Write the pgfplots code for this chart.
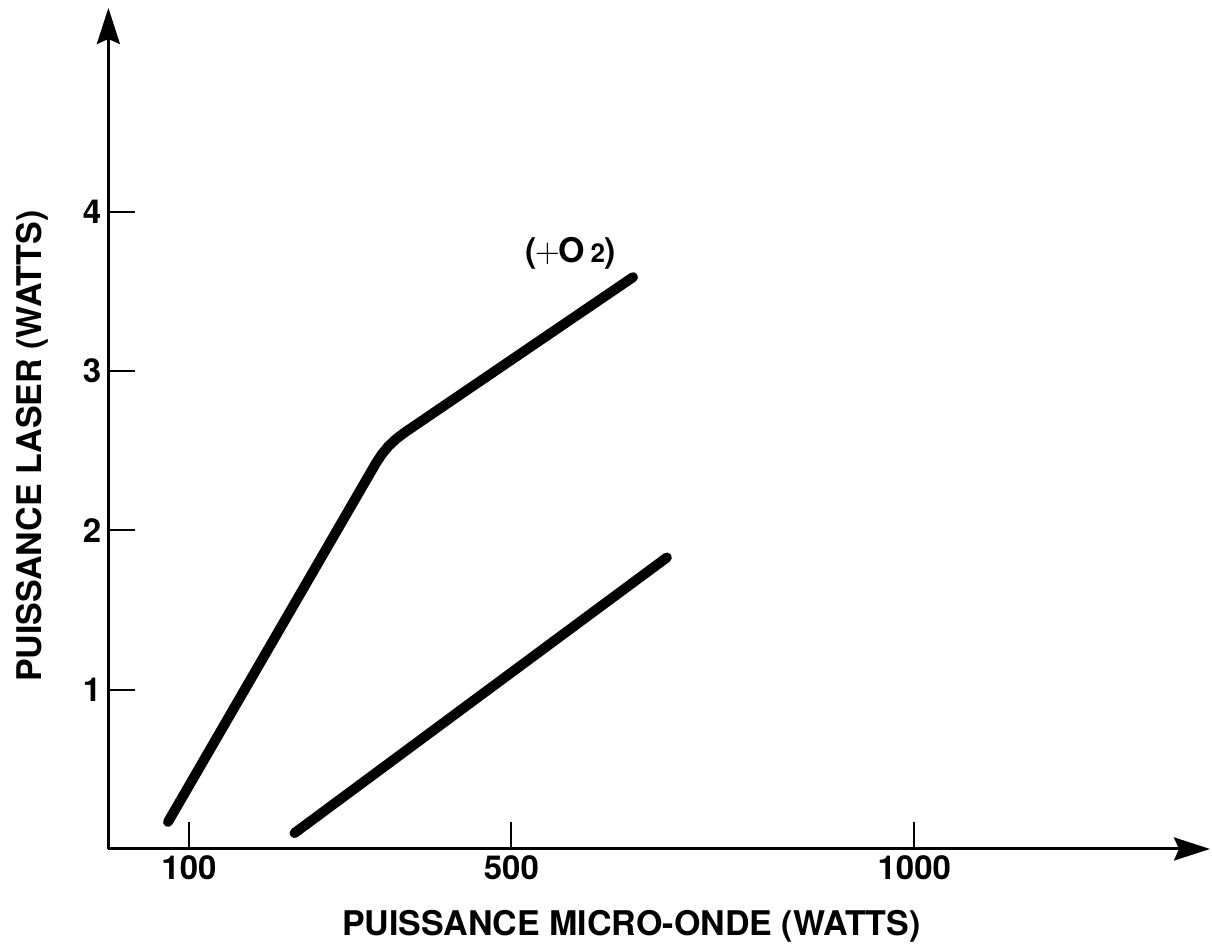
\documentclass[border=0pt]{standalone}
\usepackage{fontspec}
\setmainfont{TeX Gyre Heros}
\usepackage{pgfplots}
\pgfplotsset{compat=1.18}
\usetikzlibrary{arrows.meta}

\begin{document}
\begin{tikzpicture}
% fixed page frame around the axis
\useasboundingbox (-54.2pt,-48pt) rectangle (551.8pt,424.5pt);
\begin{axis}[
  scale only axis,
  width=550.8pt, height=420.5pt,
  xmin=0, xmax=1367, ymin=0, ymax=5.28,
  axis lines=left,
  axis line style={line width=1.5pt, -{Stealth[length=18pt,width=11.5pt,inset=2.5pt]}},
  xtick={100,500,1000}, ytick={1,2,3,4},
  tick align=inside,
  major tick length=13.5pt,
  every tick/.style={line width=1pt, black},
  /pgf/number format/assume math mode=true,
  /pgf/number format/1000 sep={},
  every tick label/.append style={font=\bfseries\fontsize{16.5}{18}\selectfont},
  xlabel={PUISSANCE MICRO-ONDE (WATTS)},
  ylabel={PUISSANCE LASER (WATTS)},
  label style={font=\bfseries\fontsize{17}{18}\selectfont},
  xlabel style={at={(axis description cs:0.4749,-0.1023)}, anchor=base},
  ylabel style={at={(axis description cs:-0.0603,0.479)}, anchor=base},
  clip=false,
]
% with oxygen added
\addplot[black, line width=5pt, line cap=round, line join=round] coordinates {
  (74,0.17) (332,2.422) (339.3,2.478) (347.7,2.53) (357.3,2.575) (368,2.616) (651,3.59)
};
% without oxygen
\addplot[black, line width=5pt, line cap=round] coordinates {
  (231,0.10) (693,1.83)
};
\node[anchor=base, font=\bfseries\fontsize{17}{18}\selectfont]
  at (axis cs:574,3.68) {(\kern-0.05em{\fontsize{18}{18}\selectfont$+$}\kern-0.05em O\,{\fontsize{13}{13}\selectfont 2})};
\end{axis}
\end{tikzpicture}
\end{document}
